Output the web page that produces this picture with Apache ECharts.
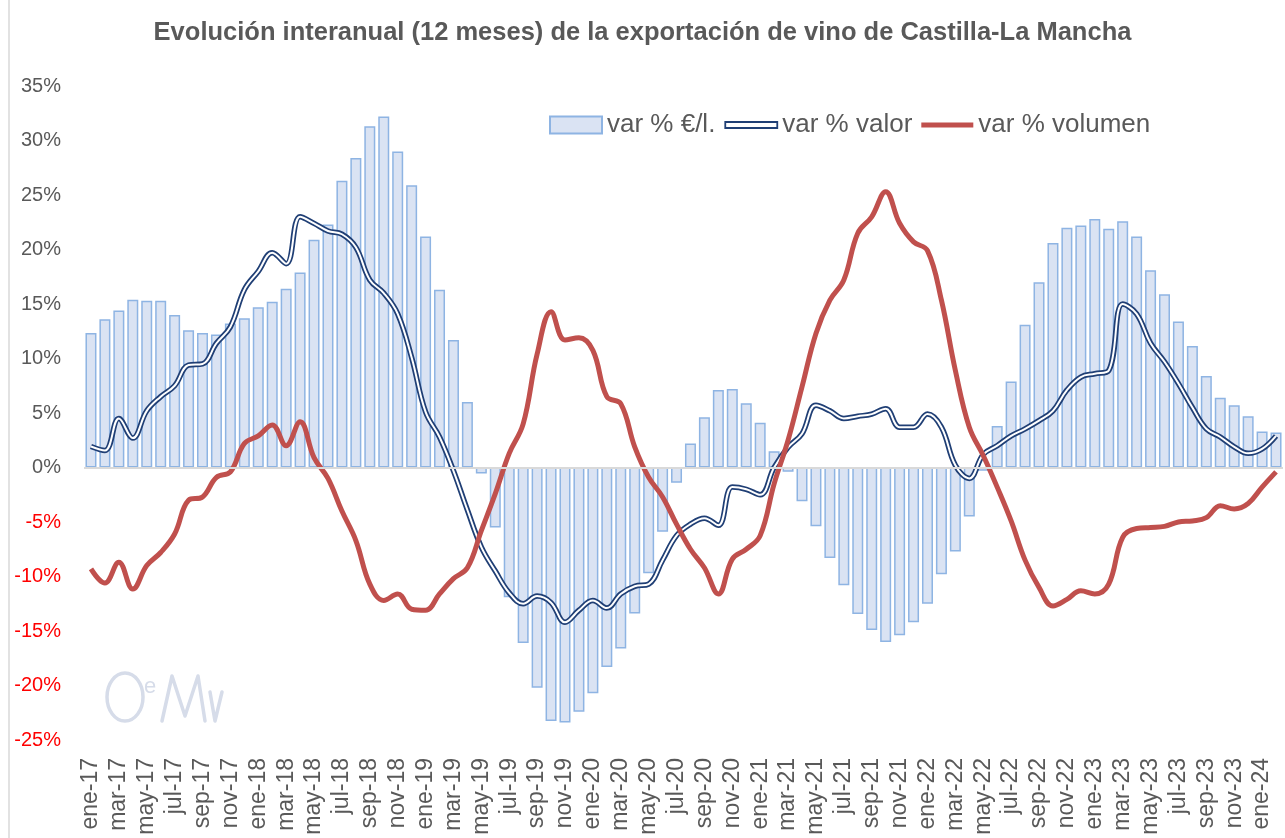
<!DOCTYPE html>
<html>
<head>
<meta charset="utf-8">
<script src="https://cdn.jsdelivr.net/npm/echarts@6/dist/echarts.min.js"></script>
<style>
html, body { margin: 0; padding: 0; background: #fff; }
#chart { width: 1285px; height: 838px; }
</style>
</head>
<body>
<div id="chart"></div>
<script>
// meses (ene-17 .. feb-24)
var meses = ['ene', 'feb', 'mar', 'abr', 'may', 'jun', 'jul', 'ago', 'sep', 'oct', 'nov', 'dic'];
var anios = ['17', '18', '19', '20', '21', '22', '23', '24'];

// var % €/l. (barras)
var precio = [
    12.35, 13.6, 14.4, 15.4, 15.3, 15.3, 14.0, 12.6, 12.35, 12.2, 13.2, 13.7,
    14.7, 15.2, 16.4, 17.9, 20.9, 22.3, 26.3, 28.4, 31.3, 32.2, 29.0, 25.9,
    21.2, 16.3, 11.7, 6.0, -0.55, -5.5, -11.9, -16.1, -20.2, -23.25, -23.4, -22.4,
    -20.7, -18.3, -16.6, -13.4, -9.7, -5.9, -1.4, 2.2, 4.6, 7.1, 7.2, 5.9,
    4.1, 1.5, -0.4, -3.1, -5.4, -8.3, -10.8, -13.45, -14.9, -16.0, -15.4, -14.2,
    -12.5, -9.8, -7.7, -4.5, -0.3, 3.8, 7.9, 13.1, 17.0, 20.6, 22.0, 22.2,
    22.8, 21.9, 22.6, 21.2, 18.1, 15.9, 13.4, 11.15, 8.4, 6.4, 5.7, 4.7,
    3.3, 3.2
];
// var % valor
var valor = [
    1.93, 1.56, 4.5, 2.7, 5.2, 6.5, 7.5, 9.4, 9.5, 11.4, 12.9, 16.3,
    18.0, 19.7, 18.7, 23.0, 22.4, 21.7, 21.4, 20.2, 17.2, 16.0, 14.1, 10.1,
    5.1, 2.8, -0.3, -3.9, -7.3, -9.5, -11.5, -12.5, -11.8, -12.4, -14.2, -13.1,
    -12.2, -12.9, -11.6, -10.9, -10.7, -8.5, -6.25, -5.2, -4.65, -5.3, -1.8, -2.0,
    -2.5, 0.0, 1.85, 3.1, 5.7, 5.2, 4.5, 4.7, 4.9, 5.4, 3.7, 3.7,
    4.9, 3.7, 0.2, -1.0, 1.2, 2.0, 2.9, 3.55, 4.3, 5.2, 7.1, 8.3,
    8.6, 8.9, 15.0, 14.1, 11.4, 9.7, 7.7, 5.5, 3.55, 2.8, 1.9, 1.3,
    1.7, 2.9
];
// var % volumen
var volumen = [
    -9.3, -10.6, -8.7, -11.15, -9.0, -7.8, -6.1, -3.0, -2.7, -0.9, -0.4, 2.2,
    2.9, 3.9, 2.0, 4.2, 0.9, -1.0, -4.0, -6.7, -10.7, -12.2, -11.6, -13.0,
    -13.1, -11.6, -10.2, -9.2, -5.8, -2.4, 1.3, 4.0, 10.4, 14.3, 11.7, 11.9,
    10.75, 6.5, 5.85, 1.9, -0.9, -2.7, -5.2, -7.5, -9.2, -11.6, -8.4, -7.5,
    -6.25, -1.5, 2.5, 7.4, 12.3, 15.35, 17.2, 21.5, 23.0, 25.3, 22.4, 20.7,
    19.9, 15.35, 8.9, 3.7, 1.1, -1.8, -4.9, -8.5, -11.0, -12.7, -12.1, -11.3,
    -11.6, -10.7, -6.4, -5.6, -5.5, -5.4, -5.0, -4.9, -4.6, -3.5, -3.8, -3.3,
    -1.8, -0.4
];

var categorias = [];
anios.forEach(function (a) {
    meses.forEach(function (m) {
        if (categorias.length < precio.length) categorias.push(m + '-' + a);
    });
});

var chart = echarts.init(document.getElementById('chart'));
var gris = '#595959';
var azul = '#203F75';
var logo = '#D6DCE9';

var option = {
    animation: false,
    textStyle: { fontFamily: 'Liberation Sans' },
    title: {
        text: 'Evolución interanual (12 meses) de la exportación de vino de Castilla-La Mancha',
        left: 'center',
        top: 15,
        textStyle: { fontSize: 25.5, fontWeight: 'bold', color: gris, fontFamily: 'Liberation Sans' }
    },
    legend: {
        left: 549,
        top: 112,
        padding: 0,
        itemWidth: 52,
        itemHeight: 17,
        itemGap: 9,
        textStyle: { fontSize: 26, color: gris },
        data: [
            { name: 'var % €/l.', icon: 'rect' },
            {
                name: 'var % valor',
                icon: 'path://M0,0H52V6H0Z',
                itemStyle: { color: '#fff', borderColor: azul, borderWidth: 1.8 }
            },
            { name: 'var % volumen', icon: 'path://M0,0H52V5H0Z' }
        ]
    },
    grid: { left: 84, right: 2, top: 86, bottom: 98 },
    xAxis: {
        type: 'category',
        data: categorias,
        axisLine: { show: false },
        axisTick: { show: false },
        axisLabel: {
            interval: 1,
            rotate: 90,
            margin: 18,
            fontSize: 23,
            color: gris
        }
    },
    yAxis: {
        type: 'value',
        min: -25,
        max: 35,
        interval: 5,
        splitLine: { show: false },
        axisLine: { show: false },
        axisTick: { show: false },
        axisLabel: {
            margin: 23,
            fontSize: 20,
            formatter: '{value}%',
            color: function (val) {
                return val < 0 ? '#FF0000' : gris;
            }
        }
    },
    graphic: [
        { type: 'line', shape: { x1: 9, y1: 0, x2: 9, y2: 838 }, style: { stroke: '#D9D9D9', lineWidth: 1.5 } },
        // logo OeMv
        { type: 'ellipse', shape: { cx: 125, cy: 697, rx: 18, ry: 24 }, style: { fill: 'none', stroke: logo, lineWidth: 3.5 } },
        { type: 'text', left: 144, top: 676, style: { text: 'e', fontSize: 22, fill: logo, fontFamily: 'Liberation Sans' } },
        { type: 'polyline', shape: { points: [[162, 721], [172, 676], [185, 716], [198, 676], [205, 721]] }, style: { fill: 'none', stroke: logo, lineWidth: 3.5, lineCap: 'round', lineJoin: 'round' } },
        { type: 'polyline', shape: { points: [[210, 692], [215, 721], [222, 692]] }, style: { fill: 'none', stroke: logo, lineWidth: 3.5, lineCap: 'round', lineJoin: 'round' } }
    ],
    series: [
        {
            name: 'var % €/l.',
            type: 'bar',
            data: precio,
            barWidth: 11,
            itemStyle: { color: '#DAE3F3', borderColor: '#8EB4E3', borderWidth: 1.5 },
            markLine: {
                silent: true,
                symbol: 'none',
                label: { show: false },
                lineStyle: { color: '#D9D9D9', width: 2, type: 'solid' },
                data: [{ yAxis: 0 }]
            }
        },
        {
            name: 'var % valor',
            type: 'line',
            data: valor,
            smooth: 0.4,
            symbol: 'none',
            lineStyle: { color: azul, width: 5.5 },
            itemStyle: { color: azul }
        },
        {
            name: 'valor-interior',
            type: 'line',
            data: valor,
            smooth: 0.4,
            symbol: 'none',
            silent: true,
            lineStyle: { color: '#fff', width: 2 },
            itemStyle: { color: '#fff' }
        },
        {
            name: 'var % volumen',
            type: 'line',
            data: volumen,
            smooth: 0.4,
            symbol: 'none',
            lineStyle: { color: '#C0504D', width: 5 },
            itemStyle: { color: '#C0504D' }
        }
    ]
};
chart.setOption(option);
window.addEventListener('resize', function () {
    chart.resize();
});
</script>
</body>
</html>
